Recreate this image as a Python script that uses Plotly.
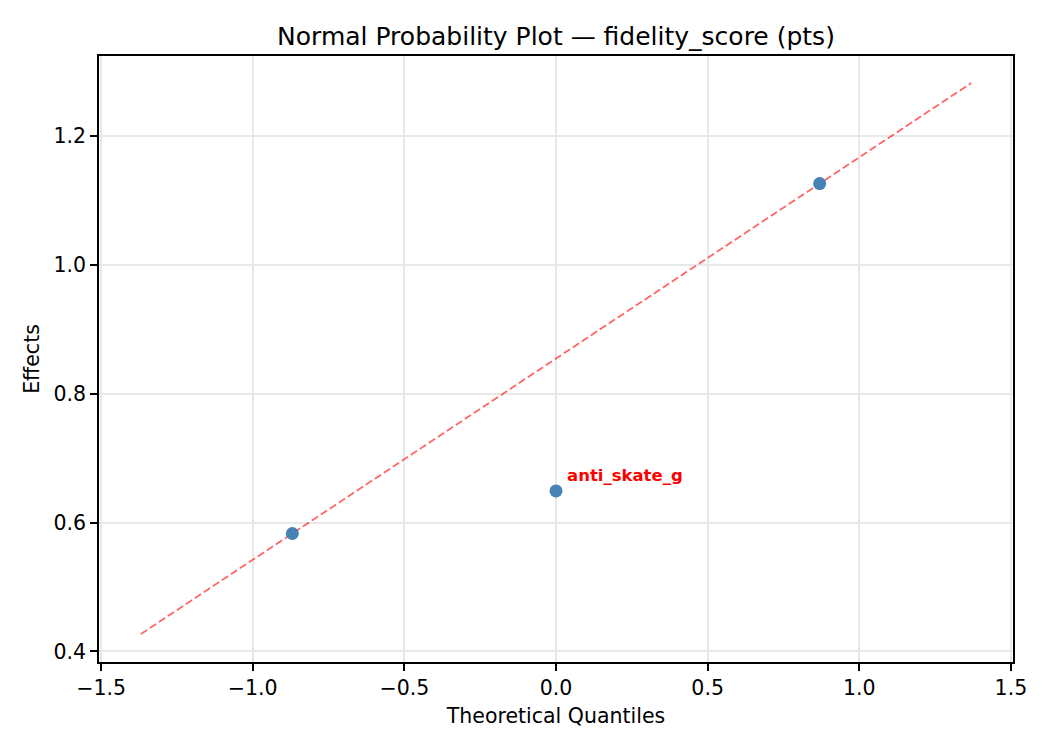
import plotly.graph_objects as go

# ==================== data ====================
quantiles = [-0.8694, 0.0, 0.8694]
effects = [0.583, 0.649, 1.126]
labels = ["", "anti_skate_g", ""]

fit_x = [-1.369, 1.369]
fit_y = [0.427, 1.282]

x_ticks = [-1.5, -1.0, -0.5, 0.0, 0.5, 1.0, 1.5]
y_ticks = [0.4, 0.6, 0.8, 1.0, 1.2]


def fmt(v):
    s = "{:.1f}".format(v)
    return s.replace("-", "\u2212")


# page body has an 8px margin, so the plot box is shifted by that much
OFF = 8

fig = go.Figure()

# reference line
fig.add_trace(go.Scatter(x=fit_x, y=fit_y, mode="lines",
                         line=dict(color="rgba(255,0,0,0.6)", width=1.8, dash="7.5px,3.3px"),
                         hoverinfo="skip", showlegend=False))

# effects
fig.add_trace(go.Scatter(x=quantiles, y=effects, mode="markers",
                         marker=dict(color="#4682b4", size=13),
                         showlegend=False))

# label the notable effect
for qx, ey, lab in zip(quantiles, effects, labels):
    if lab:
        fig.add_annotation(x=qx, y=ey, text="<b>%s</b>" % lab, showarrow=False,
                           xanchor="left", yanchor="bottom", xshift=9, yshift=4,
                           font=dict(color="red", size=16.5, family="DejaVu Sans"))

axis_common = dict(showline=True, linecolor="black", linewidth=1.6, mirror=True,
                   ticks="outside", ticklen=7, tickwidth=1.6, tickcolor="black",
                   showgrid=True, gridcolor="#e8e8e8", gridwidth=1.5, zeroline=False,
                   tickfont=dict(size=20.5, color="black"))

fig.update_xaxes(range=[-1.507, 1.507], tickvals=x_ticks, ticktext=[fmt(v) for v in x_ticks],
                 title=dict(text="Theoretical Quantiles", font=dict(size=20.5, color="black"), standoff=9),
                 **axis_common)
fig.update_yaxes(range=[0.3836, 1.324], tickvals=y_ticks, ticktext=[fmt(v) for v in y_ticks],
                 title=dict(text="Effects", font=dict(size=20.5, color="black"), standoff=8),
                 **axis_common)

fig.update_layout(
    width=1050, height=750,
    margin=dict(l=99 - OFF, r=37 + OFF, t=56 - OFF, b=88 + OFF),
    paper_bgcolor="white", plot_bgcolor="white",
    font=dict(family="DejaVu Sans", color="black"),
    title=dict(text="Normal Probability Plot \u2014 fidelity_score (pts)",
               x=((99 + 1013) / 2 - OFF) / 1050, xanchor="center",
               y=1 - (36 - OFF) / 750, yanchor="middle",
               font=dict(size=25, color="black")),
)

fig.write_html("out.html")
